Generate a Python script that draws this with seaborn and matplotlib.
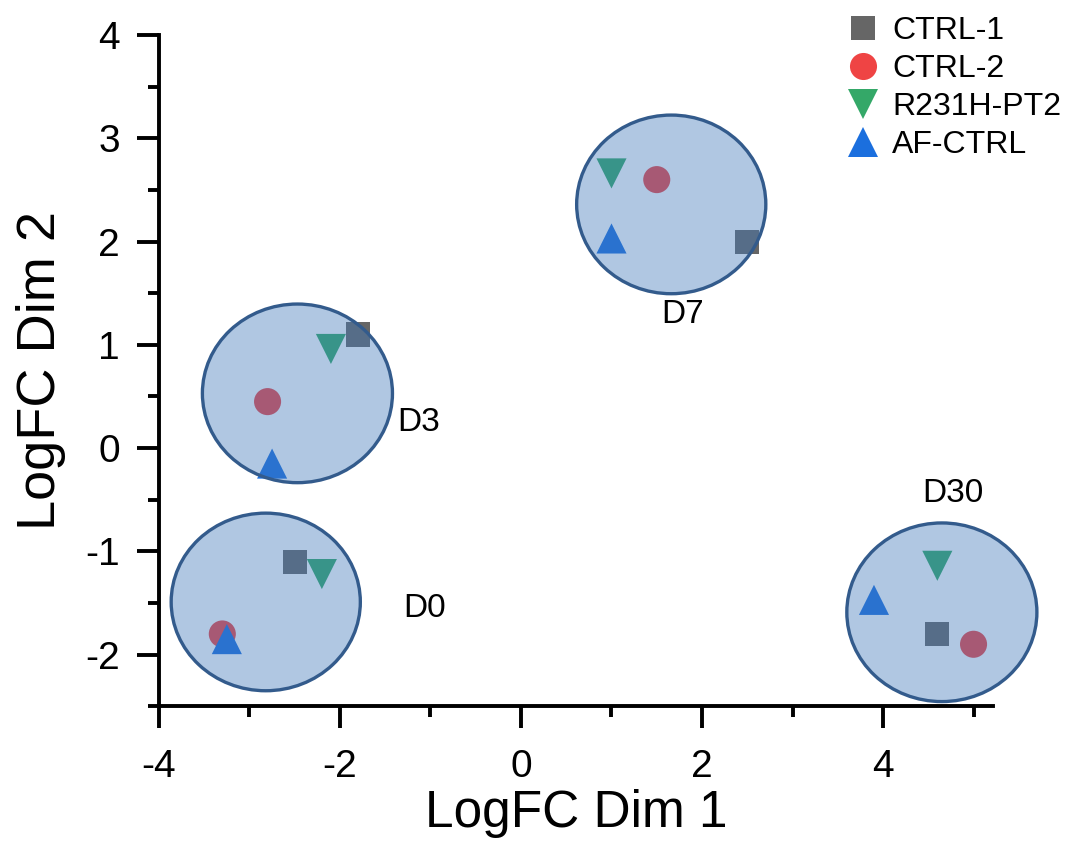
import pandas as pd
import matplotlib.pyplot as plt
import seaborn as sns
from matplotlib.patches import Ellipse
from matplotlib.ticker import MultipleLocator

# Sample groups and their coordinates, ordered D0, D3, D7, D30
samples = ['CTRL-1', 'CTRL-2', 'R231H-PT2', 'AF-CTRL']
days = ['D0', 'D3', 'D7', 'D30']
dim1 = {
    'CTRL-1': [-2.5, -1.8, 2.5, 4.6],
    'CTRL-2': [-3.3, -2.8, 1.5, 5.0],
    'R231H-PT2': [-2.2, -2.1, 1.0, 4.6],
    'AF-CTRL': [-3.25, -2.75, 1.0, 3.9],
}
dim2 = {
    'CTRL-1': [-1.1, 1.1, 2.0, -1.8],
    'CTRL-2': [-1.8, 0.45, 2.6, -1.9],
    'R231H-PT2': [-1.22, 0.96, 2.66, -1.14],
    'AF-CTRL': [-1.85, -0.15, 2.03, -1.47],
}

# Cluster ellipses and their labels
cluster_x = [-2.82, -2.47, 1.66, 4.65]
cluster_y = [-1.49, 0.53, 2.36, -1.59]
cluster_w = [2.09, 2.1, 2.09, 2.1]
cluster_h = [1.72, 1.73, 1.73, 1.73]
label_x = [-1.06, -1.13, 1.79, 4.77]
label_y = [-1.55, 0.25, 1.29, -0.44]

rows = []
for s in samples:
    for d, x, y in zip(days, dim1[s], dim2[s]):
        rows.append({'sample': s, 'day': d, 'x': x, 'y': y})
df = pd.DataFrame(rows)

sns.set_style('ticks')
plt.rcParams['font.family'] = ['Liberation Sans', 'DejaVu Sans']
plt.rcParams['axes.unicode_minus'] = False
plt.rcParams['text.color'] = 'black'
plt.rcParams['axes.labelcolor'] = 'black'
plt.rcParams['xtick.color'] = 'black'
plt.rcParams['ytick.color'] = 'black'
plt.rcParams['axes.edgecolor'] = 'black'

fig = plt.figure(figsize=(10.74, 8.55), dpi=100)
ax = fig.add_axes([0.148, 0.174, 0.777, 0.785])

palette = {'CTRL-1': '#666666', 'CTRL-2': '#ef4444',
           'R231H-PT2': '#34a868', 'AF-CTRL': '#1b6fde'}
markers = {'CTRL-1': 's', 'CTRL-2': 'o', 'R231H-PT2': 'v', 'AF-CTRL': '^'}
sizes = {'CTRL-1': 300, 'CTRL-2': 380, 'R231H-PT2': 470, 'AF-CTRL': 470}

sns.scatterplot(data=df, x='x', y='y', hue='sample', style='sample', size='sample',
                palette=palette, markers=markers, sizes=sizes,
                hue_order=samples, style_order=samples, size_order=samples,
                linewidth=0, ax=ax, zorder=2)

# semi-transparent cluster circles drawn over the points
for cx, cy, w, h in zip(cluster_x, cluster_y, cluster_w, cluster_h):
    ax.add_patch(Ellipse((cx, cy), w, h, facecolor=(0.25, 0.47, 0.73, 0.41),
                         edgecolor='#335b8c', linewidth=2.4, zorder=3, clip_on=False))
for d, lx, ly in zip(days, label_x, label_y):
    ax.text(lx, ly, d, fontsize=24, ha='center', va='center', zorder=4)

ax.set_xlim(-4, 5.22)
ax.set_ylim(-2.5, 4)
ax.set_xticks([-4, -2, 0, 2, 4])
ax.set_yticks([-2, -1, 0, 1, 2, 3, 4])
ax.xaxis.set_minor_locator(MultipleLocator(1))
ax.yaxis.set_minor_locator(MultipleLocator(0.5))
ax.tick_params(which='major', length=16, width=2.8, labelsize=28, direction='out')
ax.tick_params(axis='x', which='major', pad=15)
ax.tick_params(axis='y', which='major', pad=12)
ax.tick_params(which='minor', length=8, width=2.8, direction='out')
for side in ['top', 'right']:
    ax.spines[side].set_visible(False)
for side in ['left', 'bottom']:
    ax.spines[side].set_linewidth(2.8)

ax.set_xlabel('LogFC Dim 1', fontsize=37, va='baseline')
ax.set_ylabel('LogFC Dim 2', fontsize=39, va='baseline')
ax.xaxis.set_label_coords(0.5, -0.180)
ax.yaxis.set_label_coords(-0.1246, 0.5)

handles, labels = ax.get_legend_handles_labels()
ax.legend(handles, labels, loc='upper left', bbox_to_anchor=(0.765, 1.007),
          bbox_transform=fig.transFigure, frameon=False, fontsize=23,
          handletextpad=0.3, labelspacing=0.25, borderpad=0.2, handlelength=1.2)

plt.savefig('out.png', dpi=100)
